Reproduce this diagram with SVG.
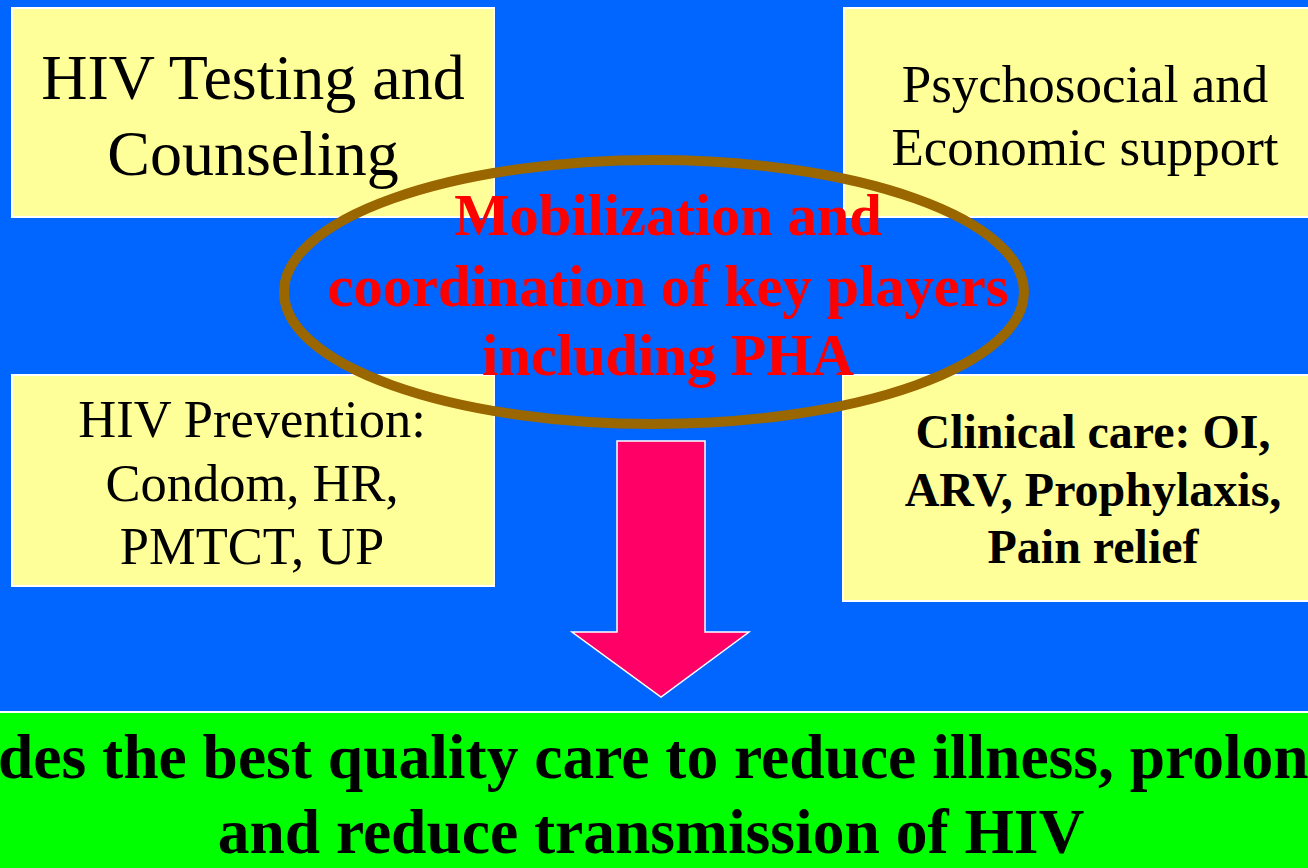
<svg xmlns="http://www.w3.org/2000/svg" width="1308" height="868" viewBox="0 0 1308 868">
<style>
.box{fill:#FFFF99;stroke:#FFFFFF;stroke-width:2}
text{font-family:'Liberation Serif','DejaVu Serif',serif;fill:#000;text-anchor:middle}
.b{font-weight:bold}
.red{fill:#FF0000;font-weight:bold}
</style>
<rect x="0" y="0" width="1308" height="868" fill="#0066FF"/>
<g id="node-testing">
<rect class="box" x="12" y="8" width="482" height="209"/>
<text font-size="64" x="253" y="99">HIV Testing and</text>
<text font-size="64" x="253" y="175">Counseling</text>
</g>
<g id="node-psychosocial">
<rect class="box" x="844" y="8" width="480" height="209"/>
<text font-size="53" x="1085" y="102">Psychosocial and</text>
<text font-size="53" x="1085" y="165">Economic support</text>
</g>
<g id="node-prevention">
<rect class="box" x="12" y="375" width="482" height="211"/>
<text font-size="52.5" x="252" y="437">HIV Prevention:</text>
<text font-size="52.5" x="252" y="501">Condom, HR,</text>
<text font-size="52.5" x="252" y="564">PMTCT, UP</text>
</g>
<g id="node-clinical">
<rect class="box" x="843" y="375" width="480" height="226"/>
<text class="b" font-size="48" x="1093" y="448">Clinical care: OI,</text>
<text class="b" font-size="48" x="1093" y="506">ARV, Prophylaxis,</text>
<text class="b" font-size="48" x="1093" y="563">Pain relief</text>
</g>
<g id="node-mobilization">
<ellipse cx="654" cy="292" rx="370" ry="132" fill="none" stroke="#996600" stroke-width="10"/>
<text class="red" font-size="58.5" x="668" y="235">Mobilization and</text>
<text class="red" font-size="58.5" x="668" y="306">coordination of key players</text>
<text class="red" font-size="58.5" x="668" y="375">including PHA</text>
</g>
<g id="connectors">
<polygon points="617,441 705,441 705,632 749,632 661,697 572,632 617,632" fill="#FF0066" stroke="#FFFFFF" stroke-width="1.5"/>
</g>
<g id="node-outcome">
<rect x="-5" y="712" width="1320" height="165" fill="#00FF00" stroke="#FFFFFF" stroke-width="2"/>
<text class="b" font-size="63.5" x="-2" y="778" style="text-anchor:start">des the best quality care to reduce illness, prolon</text>
<text class="b" font-size="63.5" x="651" y="853">and reduce transmission of HIV</text>
</g>
</svg>
